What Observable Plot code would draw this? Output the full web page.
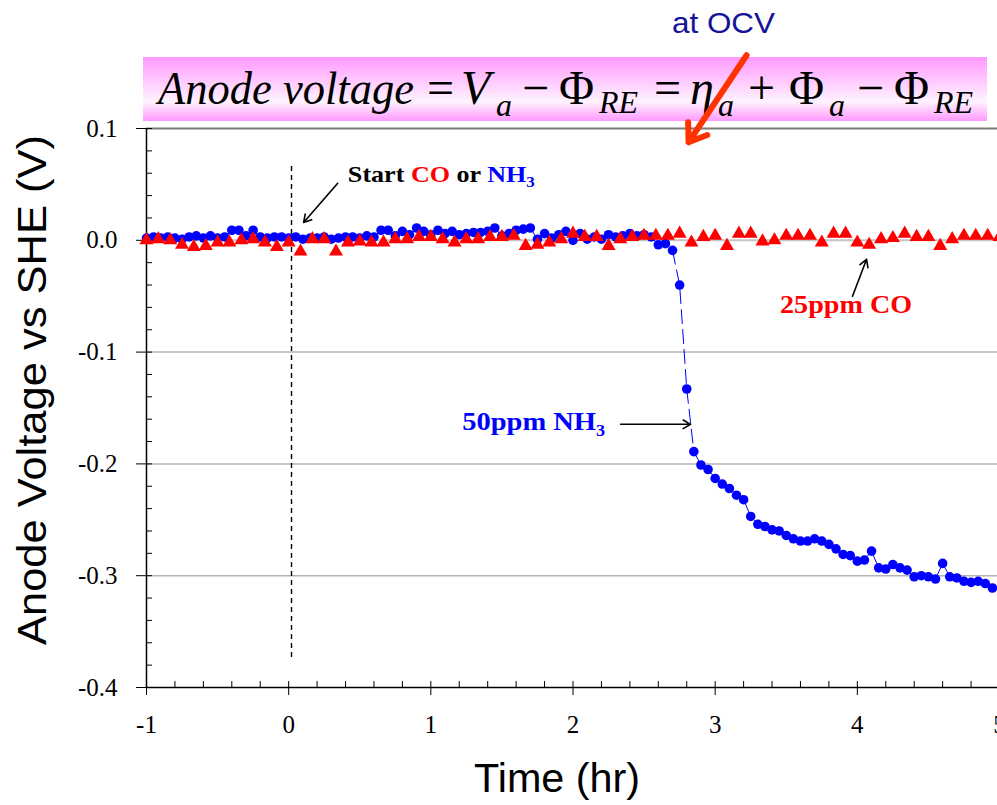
<!DOCTYPE html>
<html><head><meta charset="utf-8">
<script src="https://cdn.jsdelivr.net/npm/d3@7"></script>
<script src="https://cdn.jsdelivr.net/npm/@observablehq/plot@0.6"></script>
<style>
html,body{margin:0;padding:0;background:#fff;overflow:hidden;}
#wrap{position:relative;width:997px;height:805px;overflow:hidden;}
#bg{position:absolute;left:0;top:0;}
#chart{position:absolute;left:0;top:0;width:997px;height:805px;overflow:hidden;}
text{white-space:pre;}
</style></head><body>
<div id="wrap">
<svg id="bg" width="997" height="805">
  <defs><linearGradient id="pink" x1="0" y1="0" x2="0" y2="1">
    <stop offset="0" stop-color="#ff99ff"/><stop offset="0.7" stop-color="#fff3ff"/><stop offset="1" stop-color="#ff99ff"/>
  </linearGradient></defs>
  <rect x="143" y="57" width="844" height="64" fill="url(#pink)"/>
  <g font-family="Liberation Serif" fill="#000">
    <text x="158" y="104" font-size="46" font-style="italic" textLength="256" lengthAdjust="spacingAndGlyphs">Anode voltage</text>
    <text x="427" y="104" font-size="48">=</text>
    <text x="461" y="104" font-size="48" font-style="italic">V</text>
    <text x="496" y="116" font-size="32" font-style="italic">a</text>
    <text x="522" y="104" font-size="48">−</text>
    <text x="559" y="104" font-size="48">Φ</text>
    <text x="599" y="113" font-size="32" font-style="italic">RE</text>
    <text x="654" y="104" font-size="48">=</text>
    <text x="690" y="104" font-size="48" font-style="italic">η</text>
    <text x="718" y="116" font-size="32" font-style="italic">a</text>
    <text x="748" y="104" font-size="48">+</text>
    <text x="789" y="104" font-size="48">Φ</text>
    <text x="829" y="116" font-size="32" font-style="italic">a</text>
    <text x="857" y="104" font-size="48">−</text>
    <text x="894" y="104" font-size="48">Φ</text>
    <text x="934" y="113" font-size="32" font-style="italic">RE</text>
  </g>
  <text x="672" y="33" font-family="Liberation Sans" font-size="29" fill="#14149a" textLength="103" lengthAdjust="spacingAndGlyphs">at OCV</text>
  <text transform="translate(46,390) rotate(-90)" text-anchor="middle" font-family="Liberation Sans" font-size="40" textLength="510" lengthAdjust="spacingAndGlyphs">Anode Voltage vs SHE (V)</text>
  <text x="557" y="792" text-anchor="middle" font-family="Liberation Sans" font-size="40" textLength="166" lengthAdjust="spacingAndGlyphs">Time (hr)</text>
</svg>
<div id="chart"></div>
</div>
<script>
// ---- axes / ticks ----
const xDomain = [-1, 5];
const yDomain = [-0.4, 0.1];
const xTicks = [-1, 0, 1, 2, 3, 4, 5];
const xTickLabels = ["-1", "0", "1", "2", "3", "4", "5"];
const yTicks = [0.1, 0, -0.1, -0.2, -0.3, -0.4];
const yTickLabels = ["0.1", "0.0", "-0.1", "-0.2", "-0.3", "-0.4"];
const xMinorTicks = [-1, -0.8, -0.6, -0.4, -0.2, 0, 0.2, 0.4, 0.6, 0.8, 1, 1.2, 1.4, 1.6, 1.8, 2, 2.2, 2.4, 2.6, 2.8, 3, 3.2, 3.4, 3.6, 3.8, 4, 4.2, 4.4, 4.6, 4.8, 5];
const yMinorTicks = [0.1, 0.08, 0.06, 0.04, 0.02, 0, -0.02, -0.04, -0.06, -0.08, -0.1, -0.12, -0.14, -0.16, -0.18, -0.2, -0.22, -0.24, -0.26, -0.28, -0.3, -0.32, -0.34, -0.36, -0.38, -0.4];
const gridLines = [-0.1, -0.2, -0.3];

// ---- 50 ppm NH3 series (blue circles) ----
const nh3Time = [
  -1.00,-0.95,-0.90,-0.85,-0.80,-0.75,-0.70,-0.65,-0.60,-0.55,
  -0.50,-0.45,-0.40,-0.35,-0.30,-0.25,-0.20,-0.15,-0.10,-0.05,
  0.00,0.05,0.10,0.15,0.20,0.25,0.30,0.35,0.40,0.45,
  0.50,0.55,0.60,0.65,0.70,0.75,0.80,0.85,0.90,0.95,
  1.00,1.05,1.10,1.15,1.20,1.25,1.30,1.35,1.40,1.45,
  1.50,1.55,1.60,1.65,1.70,1.75,1.80,1.85,1.90,1.95,
  2.00,2.05,2.10,2.15,2.20,2.25,2.30,2.35,2.40,2.45,
  2.50,2.55,2.60,2.65,2.70,2.75,2.80,2.85,2.90,2.95,
  3.00,3.05,3.10,3.15,3.20,3.25,3.30,3.35,3.40,3.45,
  3.50,3.55,3.60,3.65,3.70,3.75,3.80,3.85,3.90,3.95,
  4.00,4.05,4.10,4.15,4.20,4.25,4.30,4.35,4.40,4.45,
  4.50,4.55,4.60,4.65,4.70,4.75,4.80,4.85,4.90,4.95
];
const nh3Voltage = [
  0.002,0.003,0.002,0.003,0.002,0.001,0.003,0.004,0.002,0.004,
  0.002,0.003,0.009,0.009,0.004,0.009,0.003,0.002,0.003,0.003,
  0.002,0.003,0.001,0.002,0.002,0.003,0.001,0.002,0.003,0.003,
  0.002,0.004,0.003,0.009,0.009,0.004,0.008,0.005,0.011,0.008,
  0.005,0.009,0.006,0.008,0.005,0.006,0.007,0.007,0.008,0.011,
  0.004,0.006,0.009,0.010,0.011,0.001,0.006,0.002,0.005,0.008,
  0.000,0.006,0.001,0.003,0.001,0.005,0.003,0.004,0.006,0.004,
  0.005,0.003,-0.004,-0.003,-0.009,-0.040,-0.133,-0.189,-0.201,-0.205,
  -0.213,-0.218,-0.222,-0.228,-0.232,-0.247,-0.254,-0.256,-0.259,-0.260,
  -0.264,-0.267,-0.269,-0.269,-0.267,-0.269,-0.272,-0.276,-0.281,-0.282,
  -0.287,-0.286,-0.278,-0.293,-0.294,-0.290,-0.293,-0.295,-0.301,-0.300,
  -0.301,-0.303,-0.289,-0.301,-0.302,-0.305,-0.306,-0.305,-0.307,-0.311
];
const nh3DropStart = 2.70, nh3DropEnd = 2.85;

// ---- 25 ppm CO series (red triangles) ----
const coTime = [
  -1.000,-0.917,-0.833,-0.750,-0.667,-0.583,-0.500,-0.417,-0.333,-0.250,-0.167,-0.083,
  0.000,0.083,0.167,0.250,0.333,0.417,0.500,0.583,0.667,0.750,0.833,0.917,
  1.000,1.083,1.167,1.250,1.333,1.417,1.500,1.583,1.667,1.750,1.833,1.917,
  2.000,2.083,2.167,2.250,2.333,2.417,2.500,2.583,2.667,2.750,2.833,2.917,
  3.000,3.083,3.167,3.250,3.333,3.417,3.500,3.583,3.667,3.750,3.833,3.917,
  4.000,4.083,4.167,4.250,4.333,4.417,4.500,4.583,4.667,4.750,4.833,4.917,
  5.000
];
const coVoltage = [
  0.000,0.001,0.000,-0.004,-0.006,-0.005,-0.002,-0.002,0.000,0.001,-0.002,-0.006,
  -0.002,-0.010,0.001,0.001,-0.010,-0.002,-0.001,-0.002,-0.002,0.001,0.001,0.003,
  0.003,0.001,-0.002,0.001,0.001,0.003,0.003,0.004,-0.005,-0.004,-0.002,0.001,
  0.006,0.003,0.003,-0.005,0.001,0.003,0.004,0.004,0.004,0.006,-0.002,0.003,
  0.004,-0.005,0.006,0.006,-0.001,0.000,0.004,0.004,0.004,-0.002,0.006,0.006,
  -0.002,-0.004,0.001,0.002,0.006,0.003,0.003,-0.005,0.001,0.004,0.004,0.004,
  0.003
];

// ---- annotations ----
const startTime = 0.02;
const startLine = {y1: 0.066, y2: -0.375};
const annotationArrows = [
  {x1: 0.345, y1: 0.051, x2: 0.105, y2: 0.016},
  {x1: 2.335, y1: -0.1646, x2: 2.827, y2: -0.1646},
  {x1: 3.966, y1: -0.050, x2: 4.065, y2: -0.017}
];
const ocvArrow = [{x1: 3.221, y1: 0.1655, x2: 2.813, y2: 0.0877}];
const annotationTexts = [
  {t: 0.42, v: 0.052, size: 23, len: 187, parts: [["Start ", "#000"], ["CO", "#ff0000"], [" or ", "#000"], ["NH", "#0000ff"], ["3", "#0000ff", true]]},
  {t: 1.224, v: -0.170, size: 25, len: 143, parts: [["50ppm NH", "#0000ff"], ["3", "#0000ff", true]]},
  {t: 3.46, v: -0.0655, size: 26, len: 132, parts: [["25ppm CO", "#ff0000"]]}
];

const nh3 = nh3Time.map((t, i) => ({t, v: nh3Voltage[i]}));
const co = coTime.map((t, i) => ({t, v: coVoltage[i]}));

const W = 1000, H = 805, mL = 146, mR = 1, mT = 128, mB = 118;
const plotW = W - mL - mR, plotH = H - mT - mB;

const chart = Plot.plot({
  width: W, height: H,
  marginLeft: mL, marginRight: mR, marginTop: mT, marginBottom: mB,
  x: {domain: xDomain},
  y: {domain: yDomain},
  style: {fontFamily: "Liberation Serif", background: "transparent", overflow: "visible", maxWidth: "none", color: "#000"},
  marks: [
    Plot.ruleY(gridLines, {stroke: "#b4b4b4", strokeWidth: 1.5}),
    Plot.ruleY([0], {stroke: "#c4c4c4", strokeWidth: 2}),
    Plot.ruleY([yDomain[1]], {stroke: "#7a7a7a", strokeWidth: 2}),
    Plot.ruleX([startTime], {y1: startLine.y1, y2: startLine.y2, stroke: "#000", strokeWidth: 1.4, strokeDasharray: "5,4"}),
    Plot.tickY(yMinorTicks, {y: d => d, insetRight: plotW - 6, stroke: "#000"}),
    Plot.tickY(yTicks, {y: d => d, insetLeft: -10, insetRight: plotW, stroke: "#000"}),
    Plot.tickX(xMinorTicks, {x: d => d, insetTop: plotH - 6, stroke: "#000"}),
    Plot.tickX(xTicks, {x: d => d, insetTop: plotH, insetBottom: -8, stroke: "#000"}),
    Plot.ruleX([xDomain[0]], {stroke: "#000", strokeWidth: 1.5}),
    Plot.ruleY([yDomain[0]], {stroke: "#000", strokeWidth: 1.5}),
    Plot.axisY({ticks: yTicks, tickSize: 0, tickPadding: 29, fontSize: 25, label: null,
      tickFormat: d => yTickLabels[yTicks.indexOf(d)]}),
    Plot.axisX({ticks: xTicks, tickSize: 0, tickPadding: 28, fontSize: 25, label: null,
      tickFormat: d => xTickLabels[xTicks.indexOf(d)]}),
    Plot.line(nh3, {filter: d => d.t <= nh3DropStart + 1e-9, x: "t", y: "v", stroke: "#0000ff", strokeWidth: 1}),
    Plot.line(nh3, {filter: d => d.t >= nh3DropStart - 1e-9 && d.t <= nh3DropEnd + 1e-9, x: "t", y: "v", stroke: "#0000ff", strokeWidth: 1, strokeDasharray: "14,6"}),
    Plot.line(nh3, {filter: d => d.t >= nh3DropEnd - 1e-9, x: "t", y: "v", stroke: "#0000ff", strokeWidth: 1}),
    Plot.dot(nh3, {x: "t", y: "v", r: 4.8, fill: "#0000ff", stroke: "none"}),
    Plot.dot(co, {x: "t", y: "v", r: 5.2, symbol: "triangle", fill: "#ff0000", stroke: "none"}),
    Plot.arrow(annotationArrows, {x1: "x1", y1: "y1", x2: "x2", y2: "y2", stroke: "#000", strokeWidth: 1.6, headLength: 8}),
    Plot.arrow(ocvArrow, {x1: "x1", y1: "y1", x2: "x2", y2: "y2", stroke: "#ff3300", strokeWidth: 6, headLength: 5, headAngle: 70})
  ]
});

const sx = chart.scale("x"), sy = chart.scale("y");
const g = d3.select(chart).append("g")
  .attr("font-family", "Liberation Serif").attr("font-weight", "bold").attr("text-anchor", "start");
for (const a of annotationTexts) {
  const txt = g.append("text")
    .attr("x", sx.apply(a.t)).attr("y", sy.apply(a.v))
    .attr("text-anchor", "start")
    .attr("font-size", a.size)
    .attr("textLength", a.len).attr("lengthAdjust", "spacingAndGlyphs");
  for (const [s, color, sub] of a.parts) {
    const ts = txt.append("tspan").attr("fill", color).text(s);
    if (sub) ts.attr("font-size", Math.round(a.size * 0.65)).attr("dy", Math.round(a.size * 0.22));
  }
}
document.getElementById("chart").appendChild(chart);
</script>
</body></html>
